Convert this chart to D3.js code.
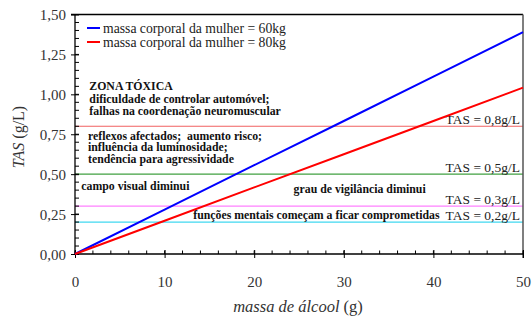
<!DOCTYPE html>
<html><head><meta charset="utf-8">
<script src="https://cdn.jsdelivr.net/npm/d3@7"></script>
<style>
body{margin:0;background:#fff;}
text{font-family:"Liberation Serif","DejaVu Serif","Times New Roman",serif;}
</style></head>
<body><svg id="c" width="532" height="319"></svg>
<script>
// Data
const alcohol = [0, 10, 20, 30, 40, 50];
const tas60 = [0, 0.278, 0.556, 0.833, 1.111, 1.389];
const tas80 = [0, 0.208, 0.417, 0.625, 0.833, 1.042];
const seriesNames = ["massa corporal da mulher = 60kg", "massa corporal da mulher = 80kg"];
const seriesColors = ["#0000ff", "#ff0000"];
const thresholds = [0.8, 0.5, 0.3, 0.2];
const thresholdLabels = ["TAS = 0,8g/L", "TAS = 0,5g/L", "TAS = 0,3g/L", "TAS = 0,2g/L"];
const thresholdColors = ["#f06060", "#40a040", "#ff80ff", "#40d8f0"];
const yTicks = [0, 0.25, 0.5, 0.75, 1, 1.25, 1.5];
const yTickLabels = ["0,00", "0,25", "0,50", "0,75", "1,00", "1,25", "1,50"];
const xTicks = [0, 10, 20, 30, 40, 50];
// annotations: [x value, y value, text]
const notes = [
  [1.6, 1.025, "ZONA TÓXICA"],
  [1.6, 0.948, "dificuldade de controlar automóvel;"],
  [1.6, 0.868, "falhas na coordenação neuromuscular"],
  [1.45, 0.712, "reflexos afectados;  aumento risco;"],
  [1.45, 0.643, "influência da luminosidade;"],
  [1.45, 0.572, "tendência para agressividade"],
  [0.7, 0.4, "campo visual diminui"],
  [24.4, 0.381, "grau de vigilância diminui"],
  [13.2, 0.22, "funções mentais começam a ficar comprometidas"]
];

const svg = d3.select("#c");
const L = 75, R = 523, T = 14.5, B = 254;
const x = d3.scaleLinear().domain([0, 50]).range([L, R]);
const y = d3.scaleLinear().domain([0, 1.5]).range([B, T]);

// threshold lines
thresholds.forEach((t, i) => {
  svg.append("line").attr("x1", L).attr("x2", R).attr("y1", y(t)).attr("y2", y(t))
    .attr("stroke", thresholdColors[i]).attr("stroke-width", 1.2);
  svg.append("text").attr("x", R - 3).attr("y", y(t) - 2.5).attr("text-anchor", "end")
    .attr("font-size", 13.5).attr("fill", "#222").text(thresholdLabels[i]);
});

// frame: top and right
svg.append("line").attr("x1", 71).attr("x2", R).attr("y1", T).attr("y2", T).attr("stroke", "#000").attr("stroke-width", 1.3);
svg.append("line").attr("x1", R).attr("x2", R).attr("y1", T).attr("y2", B + 4).attr("stroke", "#555").attr("stroke-width", 1.5);

// axes
const yMinor = d3.range(0, 1.5001, 0.05);
yMinor.forEach(v => {
  svg.append("line").attr("x1", L).attr("x2", L + 4).attr("y1", y(v)).attr("y2", y(v)).attr("stroke", "#000");
});
const yAxis = d3.axisLeft(y).tickValues(yTicks).tickFormat((d, i) => yTickLabels[i]).tickSize(4).tickPadding(5);
const gy = svg.append("g").attr("transform", `translate(${L},0)`).call(yAxis);
gy.selectAll(".tick line").attr("x2", -4).attr("x1", 4).attr("stroke", "#000");
gy.select(".domain").remove();
svg.append("line").attr("x1", L).attr("x2", L).attr("y1", T).attr("y2", B).attr("stroke", "#000").attr("stroke-width", 1.3);
gy.selectAll("text").attr("font-size", 15).attr("fill", "#333").attr("dy", "0.35em");

const xMinor = d3.range(0, 50.001, 2);
xMinor.forEach(v => {
  svg.append("line").attr("x1", x(v)).attr("x2", x(v)).attr("y1", B).attr("y2", B - 3.5).attr("stroke", "#000");
});
const xAxis = d3.axisBottom(x).tickValues(xTicks).tickFormat(d3.format("d")).tickSize(4).tickPadding(18);
const gx = svg.append("g").attr("transform", `translate(0,${B})`).call(xAxis);
gx.selectAll(".tick line").attr("y1", -4).attr("y2", 4).attr("stroke", "#000");
gx.select(".domain").remove();
svg.append("line").attr("x1", L).attr("x2", R).attr("y1", B).attr("y2", B).attr("stroke", "#000").attr("stroke-width", 1.3);
gx.selectAll("text").attr("font-size", 15).attr("fill", "#333");

// series lines
const line = d3.line().x((d, i) => x(alcohol[i])).y(d => y(d));
[tas60, tas80].forEach((s, i) => {
  svg.append("path").datum(s).attr("d", line).attr("fill", "none")
    .attr("stroke", seriesColors[i]).attr("stroke-width", 2);
});

// legend
seriesNames.forEach((n, i) => {
  const ly = 28 + i * 14;
  svg.append("line").attr("x1", 87).attr("x2", 100).attr("y1", ly).attr("y2", ly)
    .attr("stroke", seriesColors[i]).attr("stroke-width", 2);
  svg.append("text").attr("x", 103).attr("y", ly + 4.5).attr("font-size", 13.7).attr("fill", "#222").text(n);
});

// annotations
notes.forEach(n => {
  svg.append("text").attr("x", x(n[0])).attr("y", y(n[1])).attr("font-size", 11.8)
    .attr("font-weight", "bold").attr("fill", "#111").style("white-space", "pre").text(n[2]);
});

// axis titles
const yt = svg.append("text").attr("transform", "translate(24,137) rotate(-90)").attr("text-anchor", "middle")
  .attr("font-size", 16).attr("fill", "#333");
yt.append("tspan").attr("font-style", "italic").text("TAS");
yt.append("tspan").text(" (g/L)");
const xt = svg.append("text").attr("x", 298).attr("y", 312).attr("text-anchor", "middle")
  .attr("font-size", 16.5).attr("fill", "#333");
xt.append("tspan").attr("font-style", "italic").text("massa de álcool");
xt.append("tspan").text(" (g)");
</script></body></html>
